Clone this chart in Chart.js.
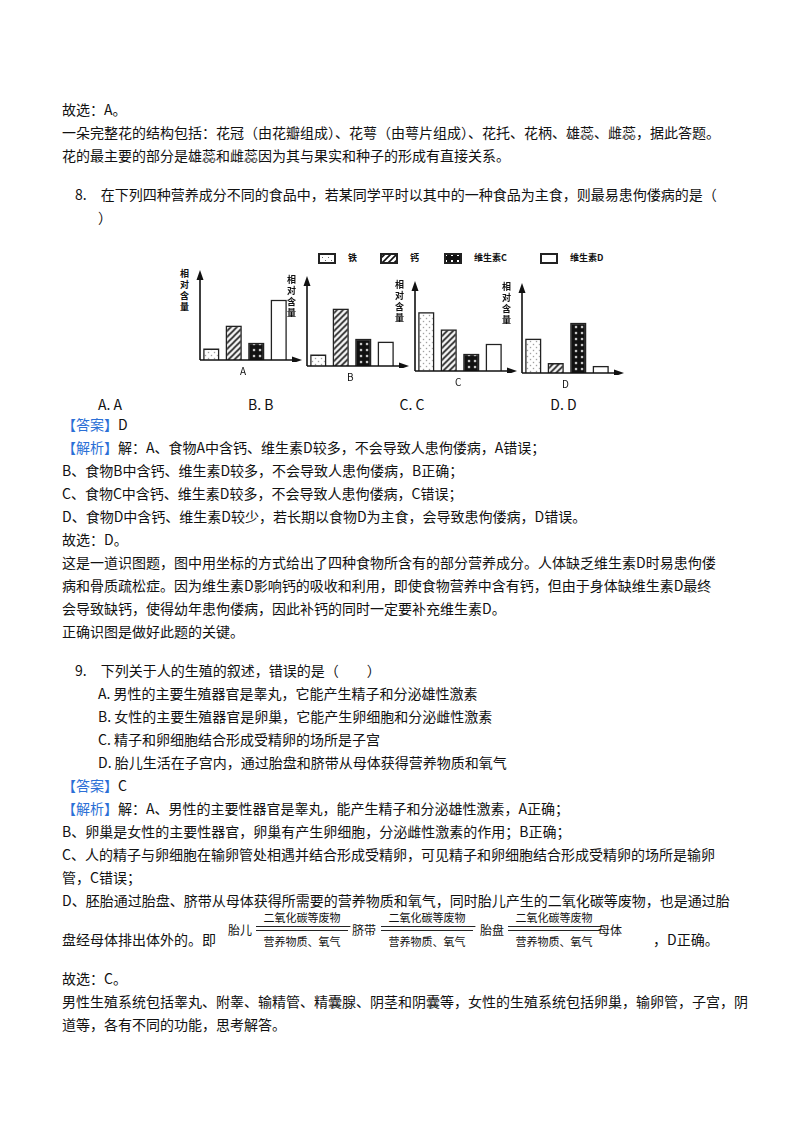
<!DOCTYPE html>
<html><head><meta charset="utf-8">
<script src="https://cdn.jsdelivr.net/npm/chart.js@4"></script>
<style>
body{margin:0;background:#fff;font-family:"Noto Sans CJK SC",serif;color:#111;}
#page{position:relative;width:800px;height:1132px;}
.l{position:absolute;font-size:14px;white-space:nowrap;line-height:18px;}
.red{color:#2b6fd6;}
.yt{position:absolute;font-size:9px;line-height:11px;width:10px;font-weight:bold;}
.xl{position:absolute;font-size:10px;}
canvas{position:absolute;}
.leg{position:absolute;font-size:9px;font-weight:bold;}
</style></head><body><div id="page"></div>
<script>
// data
const nutrients = ['铁', '钙', '维生素C', '维生素D'];
const foodA = [4, 12, 6, 21];
const foodB = [4, 20, 9.5, 8.5];
const foodC = [20.5, 14.5, 6, 9.5];
const foodD = [12, 3.5, 17.5, 2.5];
const foods = ['A', 'B', 'C', 'D'];

const lines = [
 [62,100,'故选：A。'],
 [62,123,'一朵完整花的结构包括：花冠（由花瓣组成）、花萼（由萼片组成）、花托、花柄、雄蕊、雌蕊，据此答题。'],
 [62,146,'花的最主要的部分是雄蕊和雌蕊因为其与果实和种子的形成有直接关系。'],
 [75,185,'8.　在下列四种营养成分不同的食品中，若某同学平时以其中的一种食品为主食，则最易患佝偻病的是（'],
 [98,208,'）'],
 [98,395,'A.  A　　　　　　　　　B.  B　　　　　　　　　C.  C　　　　　　　　　D.  D'],
 [62,415,'<span class="red">【答案】</span>D'],
 [62,438,'<span class="red">【解析】</span>解：A、食物A中含钙、维生素D较多，不会导致人患佝偻病，A错误；'],
 [62,461,'B、食物B中含钙、维生素D较多，不会导致人患佝偻病，B正确；'],
 [62,484,'C、食物C中含钙、维生素D较多，不会导致人患佝偻病，C错误；'],
 [62,507,'D、食物D中含钙、维生素D较少，若长期以食物D为主食，会导致患佝偻病，D错误。'],
 [62,530,'故选：D。'],
 [62,553,'这是一道识图题，图中用坐标的方式给出了四种食物所含有的部分营养成分。人体缺乏维生素D时易患佝偻'],
 [62,576,'病和骨质疏松症。因为维生素D影响钙的吸收和利用，即使食物营养中含有钙，但由于身体缺维生素D最终'],
 [62,599,'会导致缺钙，使得幼年患佝偻病，因此补钙的同时一定要补充维生素D。'],
 [62,622,'正确识图是做好此题的关键。'],
 [75,661,'9.　下列关于人的生殖的叙述，错误的是（　　）'],
 [98,684,'A.  男性的主要生殖器官是睾丸，它能产生精子和分泌雄性激素'],
 [98,707,'B.  女性的主要生殖器官是卵巢，它能产生卵细胞和分泌雌性激素'],
 [98,730,'C.  精子和卵细胞结合形成受精卵的场所是子宫'],
 [98,753,'D.  胎儿生活在子宫内，通过胎盘和脐带从母体获得营养物质和氧气'],
 [62,776,'<span class="red">【答案】</span>C'],
 [62,799,'<span class="red">【解析】</span>解：A、男性的主要性器官是睾丸，能产生精子和分泌雄性激素，A正确；'],
 [62,822,'B、卵巢是女性的主要性器官，卵巢有产生卵细胞，分泌雌性激素的作用；B正确；'],
 [62,845,'C、人的精子与卵细胞在输卵管处相遇并结合形成受精卵，可见精子和卵细胞结合形成受精卵的场所是输卵'],
 [62,868,'管，C错误；'],
 [62,891,'D、胚胎通过胎盘、脐带从母体获得所需要的营养物质和氧气，同时胎儿产生的二氧化碳等废物，也是通过胎'],
 [62,930,'盘经母体排出体外的。即'],
 [653,930,'，D正确。'],
 [62,969,'故选：C。'],
 [62,992,'男性生殖系统包括睾丸、附睾、输精管、精囊腺、阴茎和阴囊等，女性的生殖系统包括卵巢，输卵管，子宫，阴'],
 [62,1015,'道等，各有不同的功能，思考解答。']
];
const page = document.getElementById('page');
lines.forEach(([x, y, t]) => {
  const d = document.createElement('div');
  d.className = 'l'; d.style.left = x + 'px'; d.style.top = y + 'px'; d.innerHTML = t;
  page.appendChild(d);
});

// arrow chain
const chain = [[228,'胎儿'],[352,'脐带'],[480,'胎盘'],[598,'母体']];
chain.forEach(([x, t]) => {
  const d = document.createElement('div');
  d.className = 'l'; d.style.left = x + 'px'; d.style.top = '921px'; d.style.fontSize = '12px'; d.textContent = t;
  page.appendChild(d);
});
[256, 381, 508].forEach(x => {
  const w = 92;
  page.insertAdjacentHTML('beforeend',
    `<div class="l" style="left:${x}px;top:908px;font-size:11px;width:${w}px;text-align:center">二氧化碳等废物</div>
     <div style="position:absolute;left:${x}px;top:926px;width:${w}px;border-top:1px solid #222"></div>
     <div style="position:absolute;left:${x+w-6}px;top:922px;width:6px;height:4px;border-bottom:1px solid #222;transform:skewX(50deg)"></div>
     <div style="position:absolute;left:${x}px;top:930px;width:${w}px;border-top:1px solid #222"></div>
     <div class="l" style="left:${x}px;top:932px;font-size:11px;width:${w}px;text-align:center">营养物质、氧气</div>`);
});

// patterns
function pat(kind) {
  const c = document.createElement('canvas'); c.width = 6; c.height = 6;
  const g = c.getContext('2d');
  if (kind === 0) { g.fillStyle = '#fff'; g.fillRect(0,0,6,6); g.fillStyle = '#666'; g.fillRect(1,1,1,1); g.fillRect(4,4,1,1); }
  if (kind === 1) { g.fillStyle = '#fff'; g.fillRect(0,0,6,6); g.strokeStyle = '#111'; g.lineWidth = 1.6; g.beginPath(); g.moveTo(0,6); g.lineTo(6,0); g.moveTo(-3,3); g.lineTo(3,-3); g.moveTo(3,9); g.lineTo(9,3); g.stroke(); }
  if (kind === 2) { g.fillStyle = '#111'; g.fillRect(0,0,6,6); g.fillStyle = '#fff'; g.fillRect(1,1,2,2); }
  if (kind === 3) { g.fillStyle = '#fff'; g.fillRect(0,0,6,6); }
  return document.createElement('canvas').getContext('2d').createPattern(c, 'repeat');
}
const fills = [0,1,2,3].map(pat);

// legend
const legX = [318, 380, 444, 540];
nutrients.forEach((n, i) => {
  const d = document.createElement('div');
  d.className = 'leg'; d.style.left = legX[i] + 'px'; d.style.top = '251px';
  const c = document.createElement('canvas'); c.width = 18; c.height = 11;
  c.style.position = 'static'; c.style.verticalAlign = 'middle'; c.style.marginRight = '12px';
  const g = c.getContext('2d'); g.fillStyle = fills[i]; g.fillRect(0,0,18,11);
  g.strokeStyle = '#222'; g.lineWidth = 2; g.strokeRect(1,1,16,9);
  d.appendChild(c); d.appendChild(document.createTextNode(n));
  page.appendChild(d);
});

const arrows = {
  id: 'arrows',
  afterDraw(ch) {
    const g = ch.ctx, a = ch.chartArea;
    g.save(); g.fillStyle = '#111'; g.strokeStyle = '#111'; g.lineWidth = 1.6;
    g.beginPath(); g.moveTo(a.left, a.bottom); g.lineTo(a.left, a.top - 18); g.moveTo(a.left, a.bottom); g.lineTo(a.right + 6, a.bottom); g.stroke();
    g.beginPath(); g.moveTo(a.left, a.top - 24); g.lineTo(a.left - 3.5, a.top - 14); g.lineTo(a.left + 3.5, a.top - 14); g.fill();
    g.beginPath(); g.moveTo(a.right + 12, a.bottom); g.lineTo(a.right + 2, a.bottom - 3.5); g.lineTo(a.right + 2, a.bottom + 3.5); g.fill();
    g.restore();
  }
};

const datasets = [foodA, foodB, foodC, foodD];
const chartX = [192, 299, 407, 514];
const chartY = [270, 276, 281, 283];
datasets.forEach((vals, k) => {
  const c = document.createElement('canvas');
  c.style.left = chartX[k] + 'px'; c.style.top = chartY[k] + 'px';
  c.style.width = '112px'; c.style.height = '92px';
  page.appendChild(c);
  page.insertAdjacentHTML('beforeend', `<div class="yt" style="left:${chartX[k]-12}px;top:${chartY[k]-2}px">相<br>对<br>含<br>量</div>
    <div class="xl" style="left:${chartX[k]+48}px;top:${chartY[k]+93}px">${foods[k]}</div>`);
  new Chart(c, {
    type: 'bar',
    data: { labels: nutrients, datasets: [{ data: vals, backgroundColor: fills, borderColor: '#222', borderWidth: 1.5 }] },
    options: {
      responsive: false, animation: false, devicePixelRatio: 2,
      layout: { padding: { left: 8, top: 24, right: 14, bottom: 2 } },
      plugins: { legend: { display: false }, tooltip: { enabled: false } },
      scales: {
        x: { display: false, barPercentage: 0.55, categoryPercentage: 0.95 },
        y: { display: false, min: 0, max: 23 }
      }
    },
    plugins: [arrows]
  });
});
</script></body></html>
